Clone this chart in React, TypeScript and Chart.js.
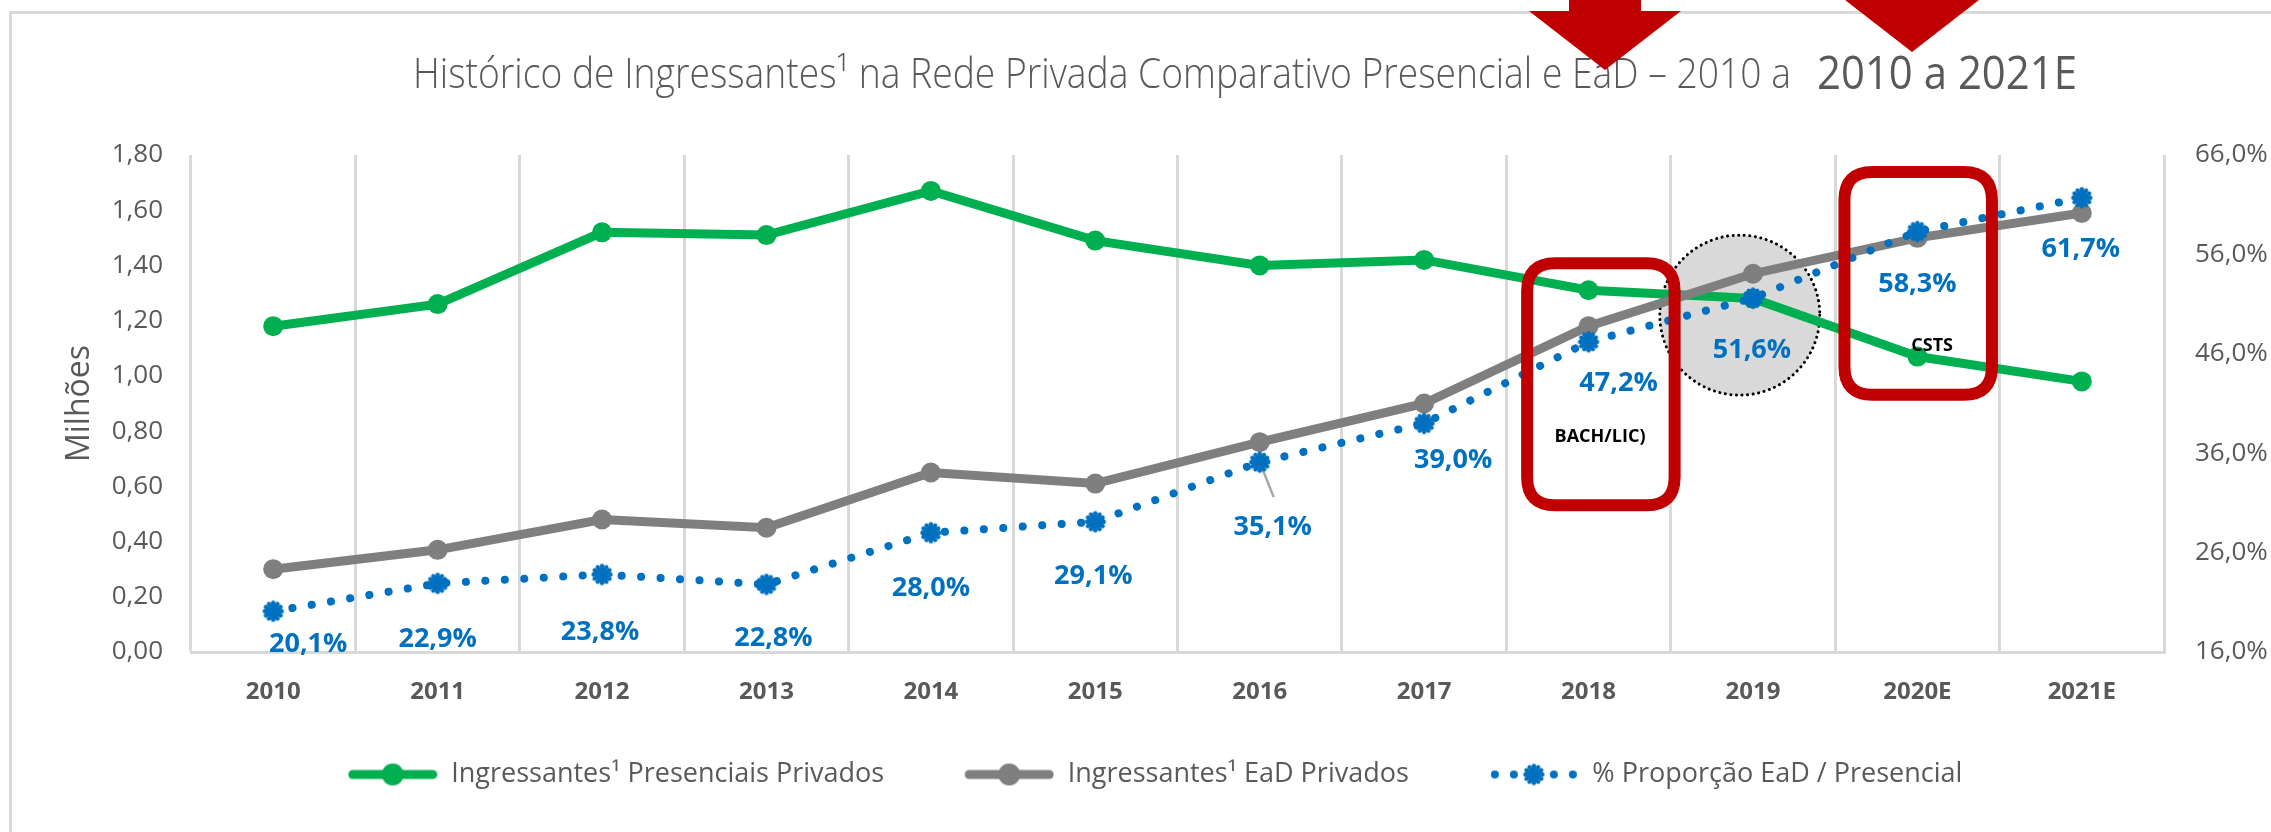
import React, { useEffect, useRef } from "react";
import { Chart, registerables } from "chart.js";
Chart.register(...registerables);

// ---------- data ----------
const categories = ["2010", "2011", "2012", "2013", "2014", "2015", "2016", "2017", "2018", "2019", "2020E", "2021E"];
const presenciais = [1.18, 1.26, 1.52, 1.51, 1.67, 1.49, 1.4, 1.42, 1.31, 1.28, 1.07, 0.98];
const eadPrivados = [0.3, 0.37, 0.48, 0.45, 0.65, 0.61, 0.76, 0.9, 1.18, 1.37, 1.5, 1.59];
const proporcao = [20.1, 22.9, 23.8, 22.8, 28.0, 29.1, 35.1, 39.0, 47.2, 51.6, 58.3, 61.7];
const seriesNames = [
  "Ingressantes¹ Presenciais Privados",
  "Ingressantes¹ EaD Privados",
  "% Proporção EaD / Presencial",
];
const titlePart1 = "Histórico de Ingressantes¹ na Rede Privada Comparativo Presencial e EaD – 2010 a";
const titlePart2 = "2010 a 2021E";
const yTitle = "Milhões";
const annotationTexts = ["BACH/LIC)", "CSTS"];

// left axis 0..1,80 step 0,20 ; right axis 16..66 step 10
const leftAxis = { min: 0, max: 1.8, step: 0.2 };
const rightAxis = { min: 16, max: 66, step: 10 };

// ---------- layout / style ----------
const W = 2271;
const H = 832;
const FONT = "'Open Sans', 'Noto Sans', sans-serif";
const GREEN = "#00b050";
const GRAY = "#7f7f7f";
const BLUE = "#0070c0";
const TXT = "#595959";
const RED = "#c00000";
const LEGEND_BLANK = 29; // blank lead-in inside each legend symbol (item spacing)
// label offsets (px) from each % point
const pctLabelOffsets: [number, number][] = [
  [35, 33], [0, 56], [-2, 58], [7, 54], [0, 56], [-2, 55],
  [13, 65], [29, 37], [30, 41], [-1, 52], [0, 53], [-1, 52],
];
// leader line for the 35,1% label
const leaderLine = { index: 6, dx: 14, dy: 35 };

function makeGear(): HTMLCanvasElement {
  const c = document.createElement("canvas");
  c.width = 24;
  c.height = 24;
  const g = c.getContext("2d")!;
  g.fillStyle = BLUE;
  g.beginPath();
  g.arc(12, 12, 7.5, 0, Math.PI * 2);
  g.fill();
  for (let k = 0; k < 12; k++) {
    const a = (k / 12) * Math.PI * 2;
    g.beginPath();
    g.arc(12 + Math.cos(a) * 8.5, 12 + Math.sin(a) * 8.5, 2.2, 0, Math.PI * 2);
    g.fill();
  }
  return c;
}

function makeLineLegend(color: string): HTMLCanvasElement {
  const c = document.createElement("canvas");
  c.width = 90 + LEGEND_BLANK;
  c.height = 30;
  const g = c.getContext("2d")!;
  g.translate(LEGEND_BLANK, 0);
  g.strokeStyle = color;
  g.lineWidth = 9;
  g.lineCap = "round";
  g.beginPath();
  g.moveTo(5, 15);
  g.lineTo(85, 15);
  g.stroke();
  g.fillStyle = color;
  g.beginPath();
  g.arc(45, 15, 11, 0, Math.PI * 2);
  g.fill();
  return c;
}

function makeDotLegend(gear: HTMLCanvasElement): HTMLCanvasElement {
  const c = document.createElement("canvas");
  c.width = 90 + LEGEND_BLANK;
  c.height = 30;
  const g = c.getContext("2d")!;
  g.translate(LEGEND_BLANK, 0);
  g.fillStyle = BLUE;
  [6, 25, 65, 84].forEach((x) => {
    g.beginPath();
    g.arc(x, 15, 4, 0, Math.PI * 2);
    g.fill();
  });
  g.drawImage(gear, 45 - 12, 15 - 12);
  return c;
}

function fitText(ctx: CanvasRenderingContext2D, text: string, x0: number, x1: number, y: number, font: string, color: string) {
  ctx.save();
  ctx.font = font;
  ctx.fillStyle = color;
  ctx.textAlign = "left";
  ctx.textBaseline = "alphabetic";
  const w = ctx.measureText(text).width;
  ctx.translate(x0, y);
  ctx.scale((x1 - x0) / w, 1);
  ctx.fillText(text, 0, 0);
  ctx.restore();
}

function drawArrow(ctx: CanvasRenderingContext2D, cx: number, tipY: number) {
  const headH = 59;
  const headHalf = 76;
  const shaftHalf = 36;
  const baseY = tipY - headH;
  ctx.save();
  ctx.fillStyle = RED;
  ctx.beginPath();
  ctx.moveTo(cx - shaftHalf, -60);
  ctx.lineTo(cx + shaftHalf, -60);
  ctx.lineTo(cx + shaftHalf, baseY);
  ctx.lineTo(cx + headHalf, baseY);
  ctx.lineTo(cx, tipY);
  ctx.lineTo(cx - headHalf, baseY);
  ctx.lineTo(cx - shaftHalf, baseY);
  ctx.closePath();
  ctx.fill();
  ctx.restore();
}

function roundRect(ctx: CanvasRenderingContext2D, x: number, y: number, w: number, h: number, r: number) {
  ctx.beginPath();
  ctx.moveTo(x + r, y);
  ctx.lineTo(x + w - r, y);
  ctx.quadraticCurveTo(x + w, y, x + w, y + r);
  ctx.lineTo(x + w, y + h - r);
  ctx.quadraticCurveTo(x + w, y + h, x + w - r, y + h);
  ctx.lineTo(x + r, y + h);
  ctx.quadraticCurveTo(x, y + h, x, y + h - r);
  ctx.lineTo(x, y + r);
  ctx.quadraticCurveTo(x, y, x + r, y);
  ctx.closePath();
}

const annotPlugin = {
  id: "annot",
  beforeDatasetsDraw(chart: any) {
    const ctx = chart.ctx as CanvasRenderingContext2D;
    const xs = chart.scales.x;
    const ys = chart.scales.y;
    const cx = xs.getPixelForValue(8.92);
    const cy = ys.getPixelForValue(1.22);
    ctx.save();
    ctx.fillStyle = "#d9d9d9";
    ctx.beginPath();
    ctx.arc(cx, cy, 80, 0, Math.PI * 2);
    ctx.fill();
    ctx.strokeStyle = "#000000";
    ctx.lineWidth = 3;
    ctx.lineCap = "round";
    ctx.setLineDash([0.1, 5.5]);
    ctx.stroke();
    ctx.restore();
    // leader line
    const meta = chart.getDatasetMeta(2);
    const pt = meta.data[leaderLine.index];
    if (pt) {
      ctx.save();
      ctx.strokeStyle = "#a6a6a6";
      ctx.lineWidth = 2.5;
      ctx.beginPath();
      ctx.moveTo(pt.x, pt.y);
      ctx.lineTo(pt.x + leaderLine.dx, pt.y + leaderLine.dy);
      ctx.stroke();
      ctx.restore();
    }
  },
  afterDatasetsDraw(chart: any) {
    const ctx = chart.ctx as CanvasRenderingContext2D;
    const xs = chart.scales.x;
    const ys = chart.scales.y;
    // red boxes
    const boxes = [
      { a: 7.59, b: 8.56, top: 1.43, bottom: 0.51 },
      { a: 9.52, b: 10.49, top: 1.76, bottom: 0.91 },
    ];
    ctx.save();
    ctx.strokeStyle = RED;
    ctx.lineWidth = 12;
    boxes.forEach((bx) => {
      const x0 = xs.getPixelForValue(bx.a) + 6;
      const x1 = xs.getPixelForValue(bx.b) - 6;
      const y0 = ys.getPixelForValue(bx.top) + 6;
      const y1 = ys.getPixelForValue(bx.bottom) - 6;
      roundRect(ctx, x0, y0, x1 - x0, y1 - y0, 28);
      ctx.stroke();
    });
    ctx.fillStyle = "#000000";
    ctx.font = `bold 18px ${FONT}`;
    ctx.textAlign = "center";
    ctx.textBaseline = "middle";
    ctx.fillText(annotationTexts[0], xs.getPixelForValue(8.07), ys.getPixelForValue(0.78));
    ctx.fillText(annotationTexts[1], xs.getPixelForValue(10.09), ys.getPixelForValue(1.11));
    ctx.restore();

    // % data labels
    const meta = chart.getDatasetMeta(2);
    ctx.save();
    ctx.fillStyle = BLUE;
    ctx.font = `bold 27px ${FONT}`;
    ctx.textAlign = "center";
    ctx.textBaseline = "middle";
    meta.data.forEach((pt: any, i: number) => {
      const [dx, dy] = pctLabelOffsets[i];
      ctx.fillText(proporcao[i].toFixed(1).replace(".", ",") + "%", pt.x + dx, pt.y + dy);
    });
    ctx.restore();
  },
  afterDraw(chart: any) {
    const ctx = chart.ctx as CanvasRenderingContext2D;
    // outer frame (top & left visible)
    ctx.save();
    ctx.strokeStyle = "#d9d9d9";
    ctx.lineWidth = 3;
    ctx.beginPath();
    ctx.moveTo(10.5, H + 10);
    ctx.lineTo(10.5, 12.5);
    ctx.lineTo(W + 10, 12.5);
    ctx.stroke();
    ctx.restore();
    // title
    fitText(ctx, titlePart1, 413, 1791, 88, `300 42px ${FONT}`, TXT);
    fitText(ctx, titlePart2, 1817, 2077, 89, `400 45px ${FONT}`, TXT);
    // arrows
    drawArrow(ctx, 1605, 70);
    drawArrow(ctx, 1912, 52);
  },
};

export default function App() {
  const ref = useRef<HTMLCanvasElement>(null);
  useEffect(() => {
    if (!ref.current) return;
    const gear = makeGear();
    const legendImgs = [makeLineLegend(GREEN), makeLineLegend(GRAY), makeDotLegend(gear)];
    const chart = new Chart(ref.current, {
      type: "line",
      data: {
        labels: categories,
        datasets: [
          {
            label: seriesNames[0],
            data: presenciais,
            yAxisID: "y",
            borderColor: GREEN,
            backgroundColor: GREEN,
            borderWidth: 9,
            pointRadius: 10,
            pointBorderWidth: 0,
            pointBackgroundColor: GREEN,
            tension: 0,
            order: 3,
          },
          {
            label: seriesNames[1],
            data: eadPrivados,
            yAxisID: "y",
            borderColor: GRAY,
            backgroundColor: GRAY,
            borderWidth: 9,
            pointRadius: 10,
            pointBorderWidth: 0,
            pointBackgroundColor: GRAY,
            tension: 0,
            order: 2,
          },
          {
            label: seriesNames[2],
            data: proporcao,
            yAxisID: "y1",
            borderColor: BLUE,
            backgroundColor: BLUE,
            borderWidth: 8,
            borderDash: [0.1, 19.4],
            borderCapStyle: "round",
            pointStyle: gear as any,
            pointRadius: 10,
            tension: 0,
            order: 1,
          },
        ],
      },
      options: {
        responsive: false,
        animation: false,
        devicePixelRatio: 1,
        layout: { padding: { left: 10, right: 0, top: 155, bottom: 34 } },
        plugins: {
          title: { display: false },
          tooltip: { enabled: false },
          legend: {
            position: "bottom",
            labels: {
              usePointStyle: true,
              pointStyleWidth: 90 + LEGEND_BLANK,
              boxHeight: 27,
              padding: 51,
              color: TXT,
              font: { family: FONT, size: 27 },
              generateLabels: (ch: any) =>
                ch.data.datasets.map((ds: any, i: number) => ({
                  text: ds.label,
                  pointStyle: legendImgs[i],
                  datasetIndex: i,
                  hidden: false,
                  lineWidth: 0,
                  strokeStyle: "rgba(0,0,0,0)",
                  fillStyle: "rgba(0,0,0,0)",
                  fontColor: TXT,
                })),
            },
          },
        },
        scales: {
          x: {
            offset: true,
            grid: { offset: true, color: "#d9d9d9", lineWidth: 3, drawTicks: false },
            border: { display: true, color: "#d9d9d9", width: 3 },
            ticks: {
              color: TXT,
              font: { family: FONT, size: 24, weight: "bold" },
              padding: 26,
              maxRotation: 0,
              autoSkip: false,
            },
            afterFit: (s: any) => {
              s.height = 58;
            },
          },
          y: {
            position: "left",
            min: leftAxis.min,
            max: leftAxis.max,
            grid: { display: false, drawTicks: false },
            border: { display: false },
            ticks: {
              stepSize: leftAxis.step,
              padding: 28,
              color: TXT,
              font: { family: FONT, size: 26 },
              callback: (v: any) => Number(v).toFixed(2).replace(".", ","),
            },
            title: {
              display: true,
              text: yTitle,
              color: TXT,
              font: { family: FONT, size: 32 },
              padding: { top: 51, bottom: 0 },
            },
            afterFit: (s: any) => {
              s.width = 181;
            },
          },
          y1: {
            position: "right",
            min: rightAxis.min,
            max: rightAxis.max,
            grid: { display: false, drawTicks: false },
            border: { display: false },
            ticks: {
              stepSize: rightAxis.step,
              padding: 31,
              color: TXT,
              font: { family: FONT, size: 26 },
              callback: (v: any) => Number(v).toFixed(1).replace(".", ",") + "%",
            },
            afterFit: (s: any) => {
              s.width = 107;
            },
          },
        },
      } as any,
      plugins: [annotPlugin],
    });
    const fonts: any = (document as any).fonts;
    if (fonts && fonts.load) {
      Promise.all([
        fonts.load(`24px ${FONT}`),
        fonts.load(`bold 24px ${FONT}`),
        fonts.load(`300 42px ${FONT}`),
      ])
        .then(() => chart.update())
        .catch(() => null);
    }
    return () => chart.destroy();
  }, []);
  return (
    <div style={{ position: "absolute", left: 0, top: 0, width: W, height: H, background: "#fff" }}>
      <canvas ref={ref} width={W} height={H} style={{ display: "block", width: W, height: H }} />
    </div>
  );
}
